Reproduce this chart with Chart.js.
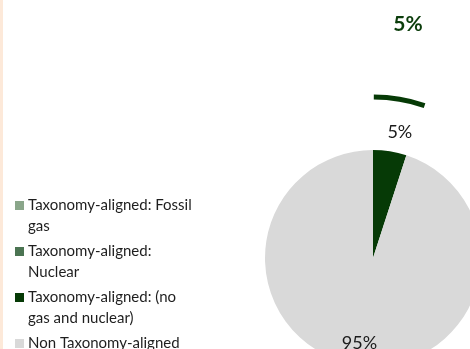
<!DOCTYPE html>
<html>
<head>
<meta charset="utf-8">
<script src="https://cdn.jsdelivr.net/npm/chart.js@4/dist/chart.umd.min.js"></script>
<style>
  html, body { margin:0; padding:0; background:#fff; }
  #wrap { position:relative; width:470px; height:349px; overflow:hidden; background:#fff; }
  #strip { position:absolute; left:0; top:0; width:3px; height:349px; background:#fde9d9; }
  canvas { position:absolute; left:0; top:0; }
</style>
</head>
<body>
<div id="wrap">
  <canvas id="c" width="500" height="400" style="width:500px;height:400px"></canvas>
  <div id="strip"></div>
</div>
<script>
const categories = [
  'Taxonomy-aligned: Fossil gas',
  'Taxonomy-aligned: Nuclear',
  'Taxonomy-aligned: (no gas and nuclear)',
  'Non Taxonomy-aligned'
];
const values = [0, 0, 5, 95];
const sliceColors = ['#8aa68a', '#4b7452', '#063a06', '#d9d9d9'];
const titleText = '5%';

const FONT = 'Lato, "Liberation Sans", sans-serif';

const overlay = {
  id: 'overlay',
  afterDraw(chart) {
    const ctx = chart.ctx;
    const meta = chart.getDatasetMeta(0);
    const data = chart.data.datasets[0].data;
    const total = data.reduce((a, b) => a + b, 0);
    ctx.save();
    // title
    ctx.fillStyle = '#0b3d0b';
    ctx.font = 'bold 21px ' + FONT;
    ctx.textAlign = 'center';
    ctx.textBaseline = 'middle';
    ctx.fillText(titleText, 408, 24);

    // arcs / labels
    meta.data.forEach((el, i) => {
      const v = data[i];
      if (!v) return;
      const mid = (el.startAngle + el.endAngle) / 2;
      const pct = Math.round(v / total * 100) + '%';
      ctx.font = '18px ' + FONT;
      ctx.fillStyle = '#1a1a1a';
      ctx.textAlign = 'center';
      ctx.textBaseline = 'middle';
      if (v / total < 0.5) {
        ctx.beginPath();
        ctx.strokeStyle = sliceColors[i];
        ctx.lineWidth = 5;
        ctx.arc(el.x, el.y, el.outerRadius * 1.49, el.startAngle + 0.005, el.endAngle + 0.012);
        ctx.stroke();
        const r = el.outerRadius + 19;
        ctx.fillText(pct, el.x + Math.cos(mid) * r + 7, el.y + Math.sin(mid) * r);
      } else {
        const r = el.outerRadius * 0.8;
        ctx.fillText(pct, el.x + Math.cos(mid) * r, el.y + Math.sin(mid) * r);
      }
    });

    // legend
    ctx.font = '15px ' + FONT;
    ctx.textAlign = 'left';
    ctx.textBaseline = 'alphabetic';
    const maxW = 166;
    let y = 210;
    chart.data.labels.forEach((lab, i) => {
      const words = lab.split(' ');
      const lines = [];
      let cur = '';
      words.forEach(w => {
        const t = cur ? cur + ' ' + w : w;
        if (ctx.measureText(t).width > maxW && cur) { lines.push(cur); cur = w; }
        else cur = t;
      });
      if (cur) lines.push(cur);
      ctx.fillStyle = sliceColors[i];
      ctx.fillRect(15, y - 9, 9, 9);
      ctx.fillStyle = '#1e1e1e';
      lines.forEach((ln, k) => ctx.fillText(ln, 28, y + k * 21));
      y += 46;
    });
    ctx.restore();
  }
};

new Chart(document.getElementById('c'), {
  type: 'pie',
  data: {
    labels: categories,
    datasets: [{
      data: values,
      backgroundColor: sliceColors,
      borderWidth: 0
    }]
  },
  options: {
    responsive: false,
    animation: false,
    devicePixelRatio: 1,
    layout: { padding: { left: 265, top: 150, right: 19, bottom: 34 } },
    plugins: { legend: { display: false }, tooltip: { enabled: false }, title: { display: false } }
  },
  plugins: [overlay]
});
</script>
</body>
</html>
